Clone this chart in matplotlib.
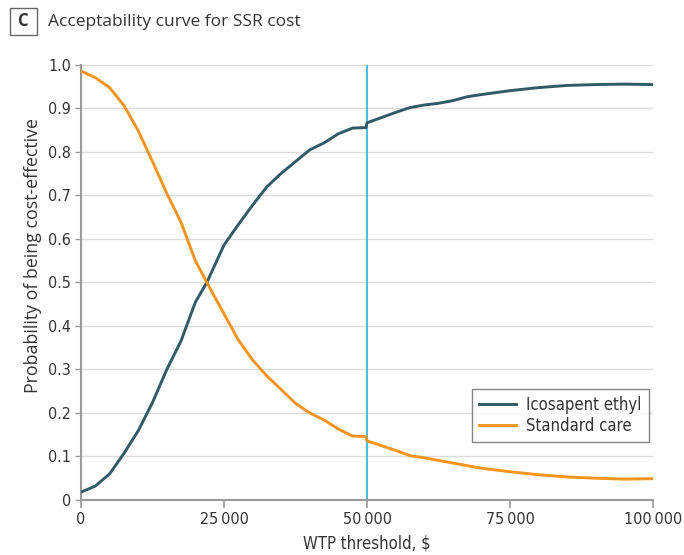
import matplotlib
matplotlib.use('Agg')
from matplotlib import pyplot as plt
from matplotlib.patches import Rectangle
from matplotlib.ticker import FuncFormatter

# WTP threshold, $
wtp = [0, 2500, 5000, 7500, 10000, 12500, 15000, 17500, 20000, 22000,
       25000, 27500, 30000, 32500, 35000, 37500, 40000, 42500, 45000, 47500,
       49800, 50000, 52500, 55000, 57500, 60000, 62500, 65000, 67500, 70000,
       75000, 80000, 85000, 90000, 95000, 100000]

icosapent = [0.018, 0.032, 0.060, 0.107, 0.159, 0.224, 0.300, 0.366, 0.455, 0.500,
             0.586, 0.633, 0.678, 0.720, 0.751, 0.778, 0.805, 0.821, 0.842, 0.855,
             0.856, 0.867, 0.879, 0.891, 0.902, 0.908, 0.912, 0.918, 0.927, 0.932,
             0.941, 0.948, 0.953, 0.955, 0.956, 0.955]

standard = [0.986, 0.971, 0.948, 0.907, 0.849, 0.778, 0.705, 0.638, 0.550, 0.500,
            0.428, 0.368, 0.322, 0.285, 0.254, 0.222, 0.200, 0.184, 0.163, 0.147,
            0.146, 0.136, 0.125, 0.114, 0.102, 0.097, 0.091, 0.085, 0.079, 0.073,
            0.065, 0.058, 0.053, 0.050, 0.048, 0.049]

threshold = 50000
series_names = ['Icosapent ethyl', 'Standard care']
x_ticks = [0, 25000, 50000, 75000, 100000]
y_ticks = [0, 0.1, 0.2, 0.3, 0.4, 0.5, 0.6, 0.7, 0.8, 0.9, 1.0]

narrow = dict(family='DejaVu Sans', stretch='condensed')
dark = '#2f5a66'
orange = '#f7941d'
grey = '#9a9a9a'
text_col = '#333333'

fig = plt.figure(figsize=(6.84, 5.55), dpi=100)
ax = fig.add_axes([0.1184, 0.0991, 0.8363, 0.7838])

for yt in y_ticks[1:]:
    ax.axhline(yt, color='#dcdcdc', lw=1.0, zorder=0)

ax.axvline(threshold, color='#2bb0e4', lw=1.2, zorder=1)
ax.plot(wtp, icosapent, color=dark, lw=2.1, label=series_names[0], zorder=3)
ax.plot(wtp, standard, color=orange, lw=2.1, label=series_names[1], zorder=3)

ax.set_xlim(0, 100000)
ax.set_ylim(0, 1.0)
ax.set_xticks(x_ticks)
ax.set_yticks(y_ticks)
ax.xaxis.set_major_formatter(FuncFormatter(lambda v, p: f'{int(v):,}'.replace(',', '\u2009') if v else '0'))
ax.yaxis.set_major_formatter(FuncFormatter(lambda v, p: '0' if v == 0 else f'{v:.1f}'))

for s in ['top', 'right']:
    ax.spines[s].set_visible(False)
for s in ['left', 'bottom']:
    ax.spines[s].set_color(grey)
    ax.spines[s].set_linewidth(1.5)
ax.tick_params(axis='x', length=6, width=1.2, color=grey, pad=3, labelcolor=text_col)
ax.tick_params(axis='y', length=4, width=1.0, color=grey, pad=3, labelcolor=text_col)
for lab in ax.get_xticklabels() + ax.get_yticklabels():
    lab.set_family(narrow['family'])
    lab.set_stretch(narrow['stretch'])
    lab.set_fontsize(11.5)

ax.set_xlabel('WTP threshold, $', fontsize=12, color=text_col, labelpad=5, **narrow)
ax.set_ylabel('Probability of being cost-effective', family=['Open Sans', 'DejaVu Sans'],
              fontsize=12.8, color=text_col)
ax.yaxis.set_label_coords(-0.068, 0.563)

leg = ax.legend(loc='lower right', bbox_to_anchor=(0.993, 0.133), frameon=True, fancybox=False,
                prop={'family': 'DejaVu Sans', 'stretch': 'condensed', 'size': 12},
                handlelength=2.2, handletextpad=0.6, borderpad=0.45, labelspacing=0.15,
                borderaxespad=0)
leg.get_frame().set_edgecolor('#666666')
leg.get_frame().set_linewidth(1.0)
for t in leg.get_texts():
    t.set_color(text_col)

# panel label and title
fig.patches.append(Rectangle((10 / 684, 1 - 35 / 555), 27 / 684, 27 / 555, transform=fig.transFigure,
                             facecolor='white', edgecolor='#666666', lw=1.0))
fig.text(23.5 / 684, 1 - 21.5 / 555, 'C', ha='center', va='center', fontsize=12,
         fontweight='bold', color=text_col, family=['Open Sans', 'DejaVu Sans'])
fig.text(48 / 684, 1 - 21.5 / 555, 'Acceptability curve for SSR cost', ha='left', va='center',
         fontsize=12.5, color=text_col, family=['Open Sans', 'DejaVu Sans'])

plt.savefig('out.png', dpi=100)
plt.close()
